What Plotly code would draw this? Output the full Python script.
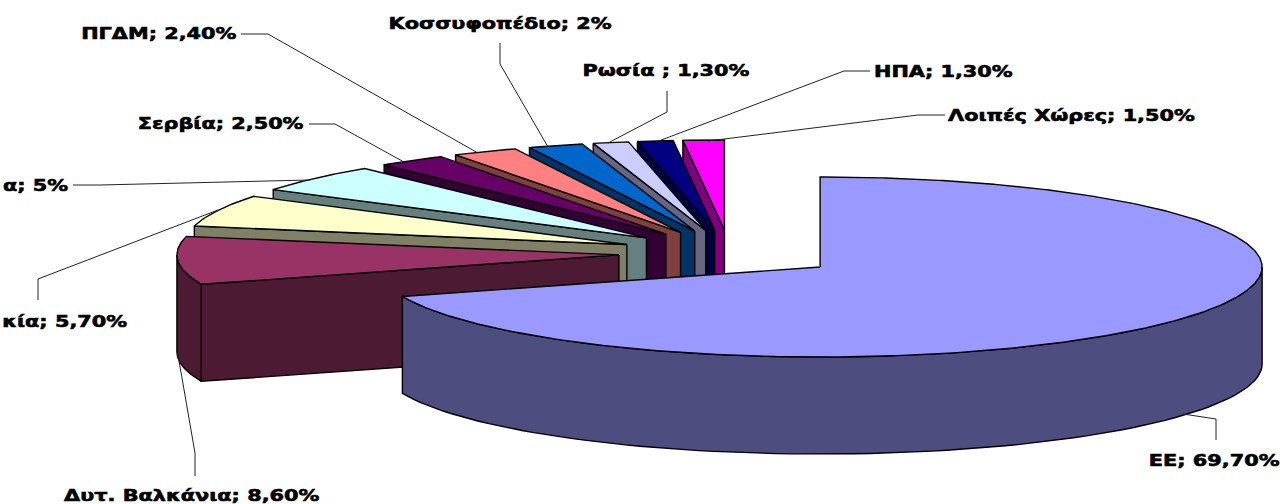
import numpy as np
import plotly.graph_objects as go

# --- data (two names are cut off in the reference itself) ---
labels = ["EE", "Δυτ. Βαλκάνια", "κία", "α", "Σερβία", "ΠΓΔΜ",
          "Κοσσυφοπέδιο", "Ρωσία ", "ΗΠΑ", "Λοιπές Χώρες"]
values = [69.7, 8.6, 5.7, 5.0, 2.5, 2.4, 2.0, 1.3, 1.3, 1.5]
value_texts = ["69,70%", "8,60%", "5,70%", "5%", "2,50%", "2,40%", "2%", "1,30%", "1,30%", "1,50%"]

# --- styles ---
top_colors = ["#9999FF", "#993366", "#FFFFCC", "#CCFFFF", "#660066",
              "#FF8080", "#0066CC", "#CCCCFF", "#000080", "#FF00FF"]
side_colors = ["#4D4D80", "#4D1A33", "#808066", "#668080", "#330033",
               "#804040", "#003366", "#666680", "#000040", "#800080"]

# --- projection of the tilted pie ---
CX, CY = 729.7, 253.4     # undisplaced pie centre
RX, RY = 442, 90          # ellipse radii of a slice rim
EXPL_X, EXPL_Y = 111, 23.5  # explosion distance on screen
DEPTH = 97                # thickness of the pie

# --- label placement: (x, y, anchor) and leader-line paths ---
label_pos = [(1281, 460, "right"), (321, 495, "right"), (129, 321, "right"), (70, 185, "right"),
             (305, 123, "right"), (238, 33, "right"), (614, 23, "right"), (751, 70, "right"),
             (1015, 71, "right"), (1197, 115, "right")]
leaders = [
    ([1216, 1216, 1183], [440, 419, 414]),
    ([195, 195, 178], [476, 453, 355]),
    ([38, 38, 218], [300, 279, 210]),
    ([73, 100, 310], [185, 185, 180]),
    ([309, 335, 404], [124, 124, 162]),
    ([241, 268, 478], [34, 34, 153]),
    ([500, 500, 548], [43, 64, 147]),
    ([667, 667, 608], [91, 112, 143]),
    ([870, 844, 656], [71, 71, 142]),
    ([945, 918, 708], [115, 115, 141]),
]


def rim(apex, th):
    t = np.radians(th)
    return apex[0] + RX * np.sin(t), apex[1] - RY * np.cos(t)


fig = go.Figure()


def poly(xs, ys, fill):
    fig.add_trace(go.Scatter(x=list(xs) + [xs[0]], y=list(ys) + [ys[0]], mode="lines", fill="toself",
                             fillcolor=fill, line=dict(color="black", width=1.4),
                             hoverinfo="skip", showlegend=False))


total = sum(values)
edges = np.concatenate([[0], np.cumsum(values)]) / total * 360
order = list(range(len(values) - 1, 0, -1)) + [0]

for i in order:
    a0, a1 = edges[i], edges[i + 1]
    mid = np.radians((a0 + a1) / 2)
    apex = (CX + EXPL_X * np.sin(mid), CY - EXPL_Y * np.cos(mid))
    # radial wall on the starting edge (faces the viewer on the back-left slices)
    if a0 >= 180:
        rx, ry = rim(apex, a0)
        poly([apex[0], rx, rx, apex[0]], [apex[1], ry, ry + DEPTH, apex[1] + DEPTH], side_colors[i])
    # outer rim wall (the part facing the viewer)
    lo, hi = max(a0, 90), min(a1, 270)
    if lo < hi:
        th = np.linspace(lo, hi, 80)
        xs, ys = rim(apex, th)
        poly(np.concatenate([xs, xs[::-1]]), np.concatenate([ys, ys[::-1] + DEPTH]), side_colors[i])
    # top face
    th = np.linspace(a0, a1, max(int(a1 - a0) * 2, 6))
    xs, ys = rim(apex, th)
    poly(np.concatenate([[apex[0]], xs]), np.concatenate([[apex[1]], ys]), top_colors[i])

for lx, ly in leaders:
    fig.add_trace(go.Scatter(x=lx, y=ly, mode="lines", line=dict(color="#222222", width=1),
                             hoverinfo="skip", showlegend=False))

for name, txt, (x, y, anc) in zip(labels, value_texts, label_pos):
    fig.add_annotation(x=x, y=y, xref="x", yref="y", text=f"{name}; {txt}", showarrow=False,
                       xanchor=anc, yanchor="middle",
                       font=dict(family="DejaVu Sans", size=16, color="black", weight=700))

fig.update_layout(width=1283, height=504, margin=dict(l=0, r=0, t=0, b=0),
                  paper_bgcolor="white", plot_bgcolor="white", showlegend=False,
                  xaxis=dict(range=[0, 1283], visible=False, fixedrange=True),
                  yaxis=dict(range=[504, 0], visible=False, fixedrange=True))

# The reference's labels are horizontally stretched: widen the glyphs, keeping the right edge.
post = """
document.body.style.margin = '0';
document.body.style.overflow = 'hidden';
var STRETCH = 1.3;
document.querySelectorAll('.annotation-text').forEach(function (t) {
  var w = t.getComputedTextLength();
  var x = parseFloat(t.getAttribute('x'));
  t.setAttribute('lengthAdjust', 'spacingAndGlyphs');
  t.setAttribute('textLength', w * STRETCH);
  t.setAttribute('x', x - w * (STRETCH - 1) / 2);
  t.style.stroke = 'black';
  t.style.strokeWidth = '0.6px';
});
"""
fig.write_html("out.html", config={"displayModeBar": False}, post_script=post)
